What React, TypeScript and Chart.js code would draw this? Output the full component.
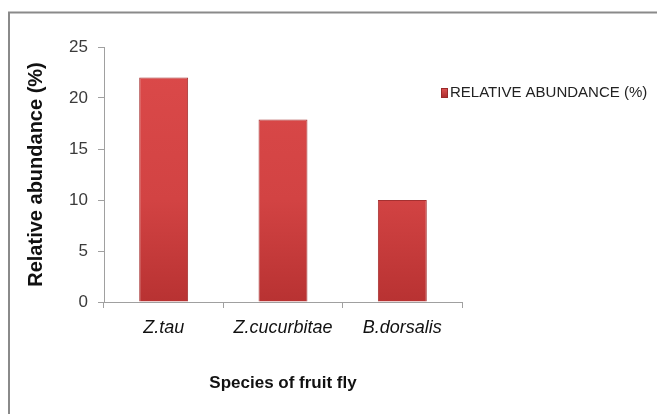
import React, { useEffect, useRef } from "react";
import { Chart, registerables } from "chart.js";

Chart.register(...registerables);

const categories = ["Z.tau", "Z.cucurbitae", "B.dorsalis"];
const abundance = [22, 17.9, 10];
const seriesLabel = "RELATIVE ABUNDANCE (%)";
const yTitle = "Relative abundance (%)";
const xTitle = "Species of fruit fly";
const yMin = 0;
const yMax = 25;
const yStep = 5;

const framePlugin = {
  id: "frame",
  beforeDraw(chart: any) {
    const { ctx } = chart;
    ctx.save();
    ctx.fillStyle = "#ffffff";
    ctx.fillRect(0, 0, chart.width, chart.height);
    ctx.strokeStyle = "#8a8a8a";
    ctx.lineWidth = 2;
    ctx.beginPath();
    ctx.moveTo(9, chart.height);
    ctx.lineTo(9, 12.5);
    ctx.lineTo(chart.width, 12.5);
    ctx.stroke();
    ctx.restore();
  },
};

const legendPlugin = {
  id: "sideLegend",
  afterDraw(chart: any) {
    const { ctx } = chart;
    const ds = chart.data.datasets[0];
    const x = 441;
    const y = 93;
    ctx.save();
    const g = ctx.createLinearGradient(x, y - 5, x, y + 5);
    g.addColorStop(0, "#e05555");
    g.addColorStop(1, "#a82a2a");
    ctx.fillStyle = g;
    ctx.fillRect(x, y - 5, 7, 10);
    ctx.strokeStyle = "#9a2a2a";
    ctx.lineWidth = 1;
    ctx.strokeRect(x + 0.5, y - 4.5, 6, 9);
    ctx.fillStyle = "#222222";
    ctx.font = "15px 'Liberation Sans', Arial, sans-serif";
    ctx.textBaseline = "middle";
    ctx.textAlign = "left";
    ctx.fillText(ds.label, x + 9, y);
    ctx.restore();
  },
};

function barFill(context: any) {
  const chart = context.chart;
  const area = chart.chartArea;
  if (!area) return "#cc3b3b";
  const g = chart.ctx.createLinearGradient(0, area.top, 0, area.bottom);
  g.addColorStop(0, "#dc4a4a");
  g.addColorStop(0.6, "#d24343");
  g.addColorStop(1, "#b83232");
  return g;
}

export default function App() {
  const ref = useRef<HTMLCanvasElement | null>(null);

  useEffect(() => {
    if (!ref.current) return;
    const chart = new Chart(ref.current, {
      type: "bar",
      data: {
        labels: categories,
        datasets: [
          {
            label: seriesLabel,
            data: abundance,
            backgroundColor: barFill,
            borderColor: "#a53030",
            borderWidth: 1,
            categoryPercentage: 1,
            barPercentage: 0.41,
          },
        ],
      },
      options: {
        responsive: false,
        animation: false,
        devicePixelRatio: 1,
        layout: { padding: { left: 0, top: 47, right: 195, bottom: 0 } },
        plugins: {
          legend: { display: false },
          tooltip: { enabled: false },
          title: { display: false },
        },
        scales: {
          x: {
            type: "category",
            offset: true,
            grid: {
              offset: true,
              drawOnChartArea: false,
              drawTicks: true,
              tickLength: 6,
              color: "#a0a0a0",
            },
            border: { display: true, color: "#a0a0a0", width: 1 },
            ticks: {
              color: "#111111",
              padding: 9,
              font: { family: "'Liberation Sans', Arial, sans-serif", size: 18, style: "italic" },
            },
            title: {
              display: true,
              text: xTitle,
              color: "#111111",
              font: { family: "'Liberation Sans', Arial, sans-serif", size: 17, weight: "bold" },
              padding: { top: 0, bottom: 20 },
            },
            afterFit(scale: any) {
              scale.height = 112;
            },
          },
          y: {
            min: yMin,
            max: yMax,
            grid: {
              drawOnChartArea: false,
              drawTicks: true,
              tickLength: 6,
              color: "#a0a0a0",
            },
            border: { display: true, color: "#a0a0a0", width: 1 },
            ticks: {
              stepSize: yStep,
              color: "#3a3a3a",
              padding: 10,
              font: { family: "'Liberation Sans', Arial, sans-serif", size: 17 },
            },
            title: {
              display: true,
              text: yTitle,
              color: "#111111",
              font: { family: "'Liberation Sans', Arial, sans-serif", size: 20, weight: "bold" },
              padding: { top: 24, bottom: 0 },
            },
            afterFit(scale: any) {
              scale.width = 104;
            },
          },
        },
      },
      plugins: [framePlugin, legendPlugin],
    });
    return () => chart.destroy();
  }, []);

  return (
    <div style={{ position: "absolute", left: 0, top: 0, width: 657, height: 414 }}>
      <canvas ref={ref} width={657} height={414} style={{ display: "block" }} />
    </div>
  );
}
